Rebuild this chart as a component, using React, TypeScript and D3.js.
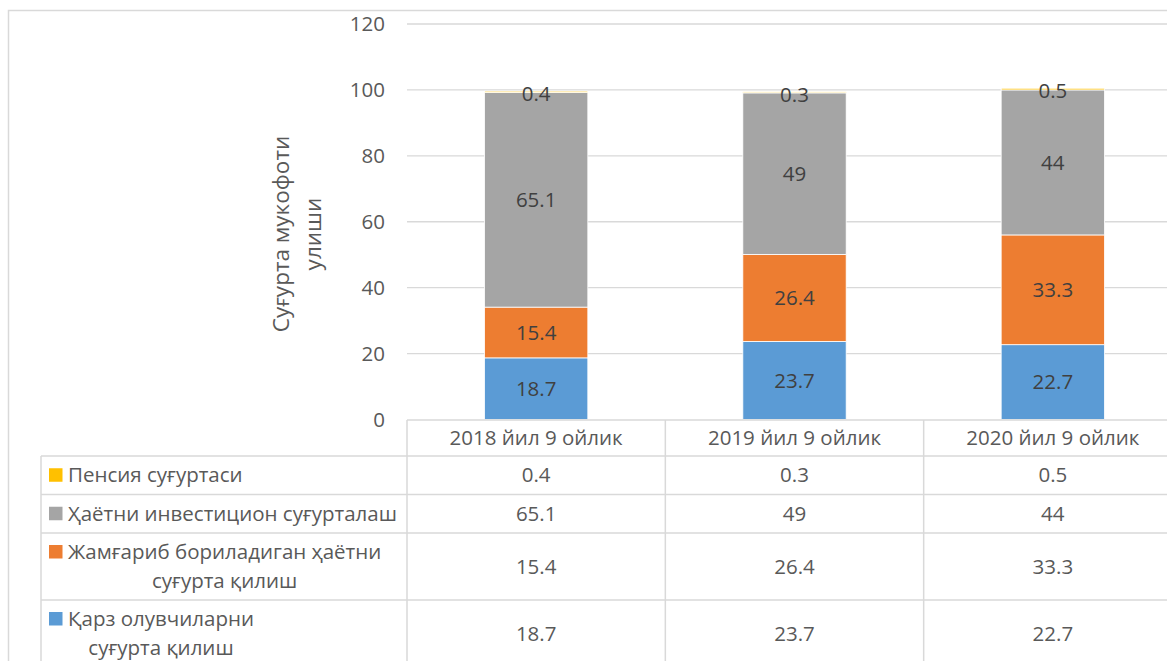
import { useEffect, useRef } from 'react';
import * as d3 from 'd3';

const categories = ['2018 йил 9 ойлик', '2019 йил 9 ойлик', '2020 йил 9 ойлик'];

// stack order, bottom to top
const seriesKeys = ['qarz', 'jamgarib', 'hayot', 'pensiya'];
const qarzValues = [18.7, 23.7, 22.7];
const jamgaribValues = [15.4, 26.4, 33.3];
const hayotValues = [65.1, 49, 44];
const pensiyaValues = [0.4, 0.3, 0.5];

const seriesLabels: Record<string, string[]> = {
  qarz: ['Қарз олувчиларни', 'суғурта қилиш'],
  jamgarib: ['Жамғариб бориладиган ҳаётни', 'суғурта қилиш'],
  hayot: ['Ҳаётни инвестицион суғурталаш'],
  pensiya: ['Пенсия суғуртаси'],
};
const seriesColors: Record<string, string> = {
  qarz: '#5b9bd5',
  jamgarib: '#ed7d31',
  hayot: '#a5a5a5',
  pensiya: '#ffc000',
};

const yTicks = [0, 20, 40, 60, 80, 100, 120];
const yTitle = ['Суғурта мукофоти', 'улиши'];

const FONT = "'Open Sans', 'Noto Sans', sans-serif";
const FS = 20.5;
const GRID = '#d9d9d9';
const TEXT = '#595959';

export default function App() {
  const svgRef = useRef<SVGSVGElement | null>(null);

  useEffect(() => {
    const svgEl = svgRef.current;
    if (!svgEl) return;
    const svg = d3.select(svgEl);
    svg.selectAll('*').remove();

    const rows = categories.map((cat, i) => ({
      cat,
      qarz: qarzValues[i],
      jamgarib: jamgaribValues[i],
      hayot: hayotValues[i],
      pensiya: pensiyaValues[i],
    }));

    const plot = { left: 407, right: 1182, top: 24, bottom: 419.5 };
    const y = d3.scaleLinear().domain([0, 120]).range([plot.bottom, plot.top]);
    const xCol = d3.scaleBand<string>().domain(categories).range([plot.left, plot.right]);
    const xBar = d3.scaleBand<string>().domain(categories).range([plot.left, plot.right]).paddingInner(0.6).paddingOuter(0.3);

    // chart frame (only top and left visible)
    svg.append('rect').attr('x', 8.5).attr('y', 10.5).attr('width', 1300).attr('height', 800)
      .attr('fill', 'none').attr('stroke', GRID).attr('stroke-width', 1.5);

    // gridlines
    svg.append('g').selectAll('line').data(yTicks.filter((t) => t > 0)).join('line')
      .attr('x1', plot.left).attr('x2', plot.right)
      .attr('y1', (d) => y(d)).attr('y2', (d) => y(d))
      .attr('stroke', GRID).attr('stroke-width', 1.3);

    // y tick labels
    svg.append('g').selectAll('text').data(yTicks).join('text')
      .attr('x', 385).attr('y', (d) => y(d))
      .attr('dy', '0.35em')
      .attr('text-anchor', 'end')
      .attr('font-family', FONT).attr('font-size', FS).attr('fill', TEXT)
      .text((d) => d);

    // y title
    const title = svg.append('text')
      .attr('transform', 'translate(297,234) rotate(-90)')
      .attr('text-anchor', 'middle')
      .attr('font-family', FONT).attr('font-size', 22.5).attr('fill', TEXT);
    yTitle.forEach((line, i) => {
      title.append('tspan').attr('x', 0).attr('y', (i - (yTitle.length - 1) / 2) * 32).attr('dy', '0.35em').text(line);
    });

    // stacked bars
    const stacked = d3.stack<any>().keys(seriesKeys)(rows);
    const layers = svg.append('g').selectAll('g').data(stacked).join('g')
      .attr('fill', (d) => seriesColors[d.key]);
    layers.selectAll('rect').data((d) => d).join('rect')
      .attr('x', (d) => xBar(d.data.cat)!)
      .attr('width', xBar.bandwidth())
      .attr('y', (d) => y(d[1]))
      .attr('height', (d) => y(d[0]) - y(d[1]))
      .attr('stroke', '#fff').attr('stroke-width', 0.8);

    // data labels
    const labels = svg.append('g');
    stacked.forEach((layer) => {
      labels.selectAll(`text.l-${layer.key}`).data(layer).join('text')
        .attr('class', `l-${layer.key}`)
        .attr('x', (d) => xBar(d.data.cat)! + xBar.bandwidth() / 2)
        .attr('y', (d) => y((d[0] + d[1]) / 2) + (layer.key === 'pensiya' ? 2 : 0))
        .attr('dy', '0.35em')
        .attr('text-anchor', 'middle')
        .attr('font-family', FONT).attr('font-size', FS).attr('fill', '#404040')
        .text((d) => String(d.data[layer.key]));
    });

    // data table
    const tableLeft = 41;
    const headerTop = 420;
    const headerBottom = 456;
    const tableKeys = [...seriesKeys].reverse();
    const rowHeights = tableKeys.map((k) => (seriesLabels[k].length > 1 ? 67 : 38.5));
    const rowTops: number[] = [];
    let acc = headerBottom;
    rowHeights.forEach((h) => {
      rowTops.push(acc);
      acc += h;
    });
    const tableBottom = acc;

    const table = svg.append('g').attr('stroke', GRID).attr('stroke-width', 1.5);
    // header row
    table.append('line').attr('x1', plot.left).attr('x2', plot.right).attr('y1', headerTop).attr('y2', headerTop);
    [plot.left, ...categories.map((c) => xCol(c)! + xCol.bandwidth())].forEach((x) => {
      table.append('line').attr('x1', x).attr('x2', x).attr('y1', headerTop).attr('y2', tableBottom);
    });
    table.append('line').attr('x1', tableLeft).attr('x2', tableLeft).attr('y1', headerBottom).attr('y2', tableBottom);
    [...rowTops, tableBottom].forEach((ry) => {
      table.append('line').attr('x1', tableLeft).attr('x2', plot.right).attr('y1', ry).attr('y2', ry);
    });

    const textG = svg.append('g').attr('font-family', FONT).attr('font-size', FS).attr('fill', TEXT);
    textG.selectAll('text.head').data(categories).join('text')
      .attr('class', 'head')
      .attr('x', (d) => xCol(d)! + xCol.bandwidth() / 2)
      .attr('y', (headerTop + headerBottom) / 2)
      .attr('dy', '0.35em')
      .attr('text-anchor', 'middle')
      .text((d) => d);

    const valuesByKey: Record<string, number[]> = {
      qarz: qarzValues,
      jamgarib: jamgaribValues,
      hayot: hayotValues,
      pensiya: pensiyaValues,
    };

    tableKeys.forEach((key, r) => {
      const cy = rowTops[r] + rowHeights[r] / 2;
      const lines = seriesLabels[key];
      const lineH = 29;
      const firstY = cy - ((lines.length - 1) * lineH) / 2;

      svg.append('rect')
        .attr('x', 49).attr('y', firstY - 7).attr('width', 13.5).attr('height', 13.5)
        .attr('fill', seriesColors[key]);

      const first = textG.append('text')
        .attr('x', 68).attr('y', firstY).attr('dy', '0.35em')
        .text(lines[0]);
      const maxW = 407 - 68 - 8;
      let w0 = (first.node() as SVGTextElement).getComputedTextLength();
      if (w0 > maxW) {
        first.attr('textLength', maxW).attr('lengthAdjust', 'spacingAndGlyphs');
        w0 = maxW;
      }
      const centerX = 68 + w0 / 2;
      lines.slice(1).forEach((line, i) => {
        textG.append('text')
          .attr('x', centerX).attr('y', firstY + (i + 1) * lineH).attr('dy', '0.35em')
          .attr('text-anchor', 'middle')
          .text(line);
      });

      valuesByKey[key].forEach((v, c) => {
        textG.append('text')
          .attr('x', xCol(categories[c])! + xCol.bandwidth() / 2)
          .attr('y', cy).attr('dy', '0.35em')
          .attr('text-anchor', 'middle')
          .text(String(v));
      });
    });
  }, []);

  return (
    <svg
      ref={svgRef}
      width={1167}
      height={661}
      style={{ position: 'absolute', left: 0, top: 0, background: '#fff' }}
    />
  );
}
